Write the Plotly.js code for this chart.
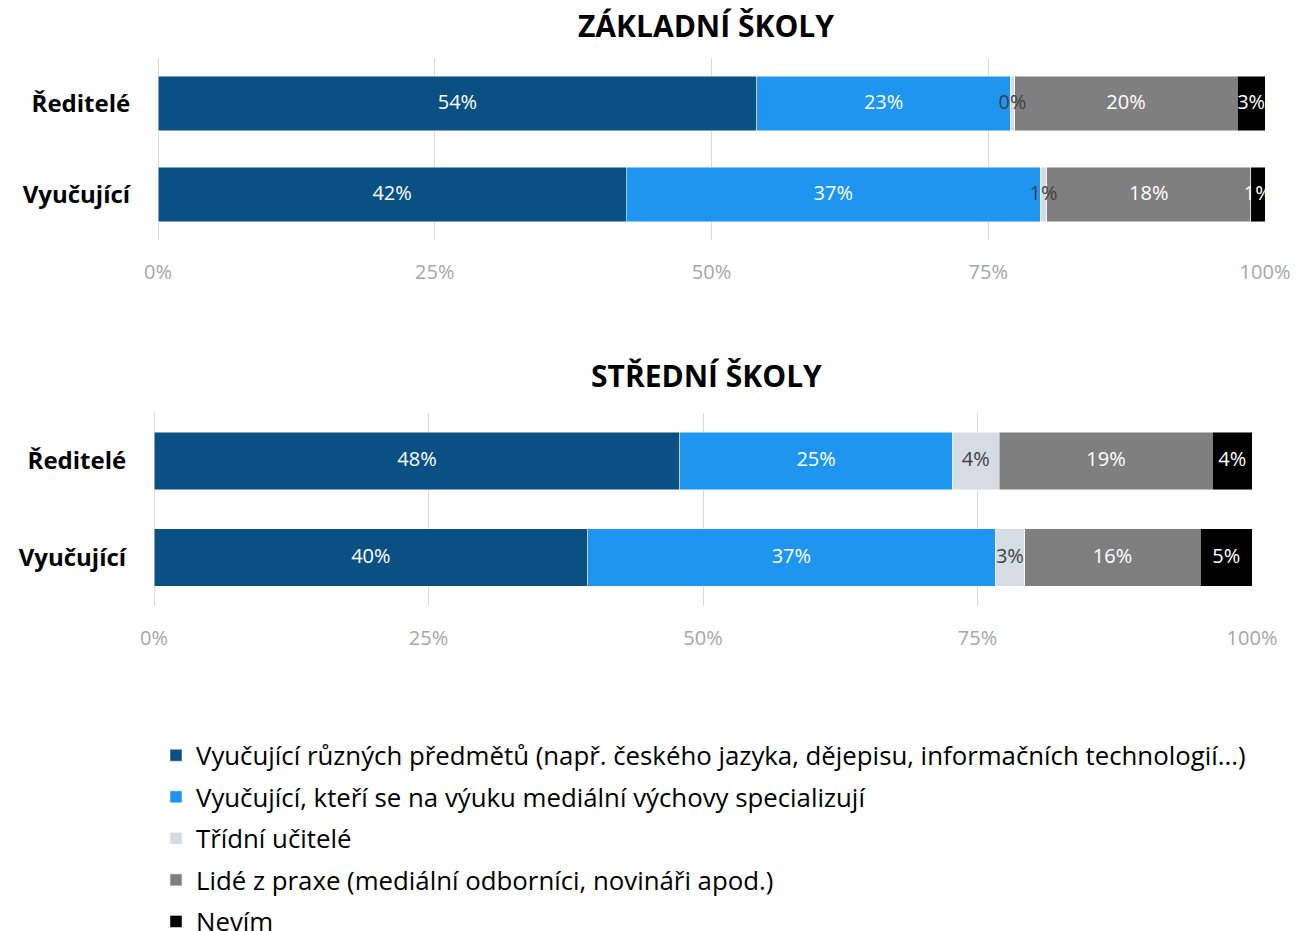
<!DOCTYPE html>
<html>
<head>
<meta charset="utf-8">
<script src="https://cdn.plot.ly/plotly-3.0.1.min.js"></script>
<style>html,body{margin:0;padding:0;background:#fff;}#chart{width:1311px;height:931px;}</style>
</head>
<body>
<div id="chart"></div>
<script>
const groups = ['Ředitelé', 'Vyučující'];
const seriesNames = [
  'Vyučující různých předmětů (např. českého jazyka, dějepisu, informačních technologií...)',
  'Vyučující, kteří se na výuku mediální výchovy specializují',
  'Třídní učitelé',
  'Lidé z praxe (mediální odborníci, novináři apod.)',
  'Nevím'
];
const seriesColors = ['#0B5083', '#1E96F0', '#D6DCE4', '#7F7F7F', '#000000'];
const textColors = ['#FFFFFF', '#FFFFFF', '#404040', '#FFFFFF', '#FFFFFF'];

// ZÁKLADNÍ ŠKOLY values (Ředitelé, Vyučující)
const zsValues = [
  [54.1, 42.3],
  [22.9, 37.4],
  [0.4, 0.6],
  [20.1, 18.4],
  [2.5, 1.3]
];
const zsLabels = [
  ['54%', '42%'],
  ['23%', '37%'],
  ['0%', '1%'],
  ['20%', '18%'],
  ['3%', '1%']
];
// STŘEDNÍ ŠKOLY values
const ssValues = [
  [47.9, 39.5],
  [24.8, 37.1],
  [4.3, 2.7],
  [19.4, 16.0],
  [3.6, 4.7]
];
const ssLabels = [
  ['48%', '40%'],
  ['25%', '37%'],
  ['4%', '3%'],
  ['19%', '16%'],
  ['4%', '5%']
];
const titles = ['ZÁKLADNÍ ŠKOLY', 'STŘEDNÍ ŠKOLY'];
const xTicks = [0, 25, 50, 75, 100];
const xTickText = ['0%', '25%', '50%', '75%', '100%'];

const FONT = '"Open Sans", sans-serif';
const traces = [];
const labelTraces = [];
function addSet(values, labels, xa, ya, showLegend) {
  const cum = groups.map(() => 0);
  for (let i = 0; i < seriesNames.length; i++) {
    traces.push({
      type: 'bar',
      orientation: 'h',
      name: seriesNames[i],
      y: groups,
      x: values[i],
      marker: {color: seriesColors[i], line: {color: 'rgba(255,255,255,0.6)', width: 0.8}},
      width: 0.6,
      xaxis: xa,
      yaxis: ya,
      legendgroup: 'g' + i,
      showlegend: showLegend,
      hoverinfo: 'skip'
    });
    // data labels centred on each stacked segment (drawn above all bars)
    const mids = values[i].map((v, k) => cum[k] + v / 2);
    values[i].forEach((v, k) => { cum[k] += v; });
    labelTraces.push({
      type: 'scatter',
      mode: 'text',
      x: mids,
      y: groups,
      text: labels[i],
      textposition: 'middle center',
      textfont: {family: FONT, size: 20, color: textColors[i]},
      xaxis: xa,
      yaxis: ya,
      showlegend: false,
      hoverinfo: 'skip',
      cliponaxis: true
    });
  }
}
addSet(zsValues, zsLabels, 'x', 'y', true);
addSet(ssValues, ssLabels, 'x2', 'y2', false);

const xaxisBase = {
  range: [0, 100],
  tickvals: xTicks,
  ticktext: xTickText,
  showgrid: true,
  gridcolor: '#D9D9D9',
  gridwidth: 1,
  zeroline: true,
  zerolinecolor: '#D9D9D9',
  zerolinewidth: 1,
  showline: false,
  ticks: 'outside',
  ticklen: 14,
  tickcolor: 'rgba(0,0,0,0)',
  tickfont: {family: FONT, size: 20, color: '#A6A6A6'},
  fixedrange: true
};
const yaxisBase = {
  type: 'category',
  autorange: 'reversed',
  showgrid: false,
  zeroline: false,
  showline: false,
  ticks: 'outside',
  ticklen: 22,
  tickcolor: 'rgba(0,0,0,0)',
  tickfont: {family: FONT, size: 24, color: '#000000', weight: 'bold'},
  fixedrange: true
};

const layout = {
  width: 1311,
  height: 931,
  margin: {l: 0, r: 0, t: 0, b: 0, autoexpand: false},
  paper_bgcolor: '#FFFFFF',
  plot_bgcolor: '#FFFFFF',
  barmode: 'stack',
  font: {family: FONT},
  xaxis: Object.assign({}, xaxisBase, {domain: [158/1311, 1265/1311], anchor: 'y'}),
  yaxis: Object.assign({}, yaxisBase, {domain: [1 - 240/931, 1 - 58/931], anchor: 'x'}),
  xaxis2: Object.assign({}, xaxisBase, {domain: [154/1311, 1252/1311], anchor: 'y2'}),
  yaxis2: Object.assign({}, yaxisBase, {domain: [1 - 605.75/931, 1 - 412.75/931], anchor: 'x2'}),
  annotations: [
    {text: titles[0], xref: 'paper', yref: 'paper', x: 706/1311, y: 1 - 26/931, xanchor: 'center', yanchor: 'middle', showarrow: false, font: {family: FONT, size: 30, color: '#000000', weight: 'bold'}},
    {text: titles[1], xref: 'paper', yref: 'paper', x: 706/1311, y: 1 - 375/931, xanchor: 'center', yanchor: 'middle', showarrow: false, font: {family: FONT, size: 30, color: '#000000', weight: 'bold'}}
  ],
  showlegend: true,
  legend: {
    orientation: 'v',
    x: 156/1311,
    xanchor: 'left',
    y: 1 - 732/931,
    yanchor: 'top',
    traceorder: 'grouped',
    tracegroupgap: 5,
    font: {family: FONT, size: 25.8, color: '#000000'},
    bgcolor: 'rgba(0,0,0,0)'
  }
};

Plotly.newPlot('chart', traces.concat(labelTraces), layout, {displayModeBar: false, staticPlot: true});
</script>
</body>
</html>
